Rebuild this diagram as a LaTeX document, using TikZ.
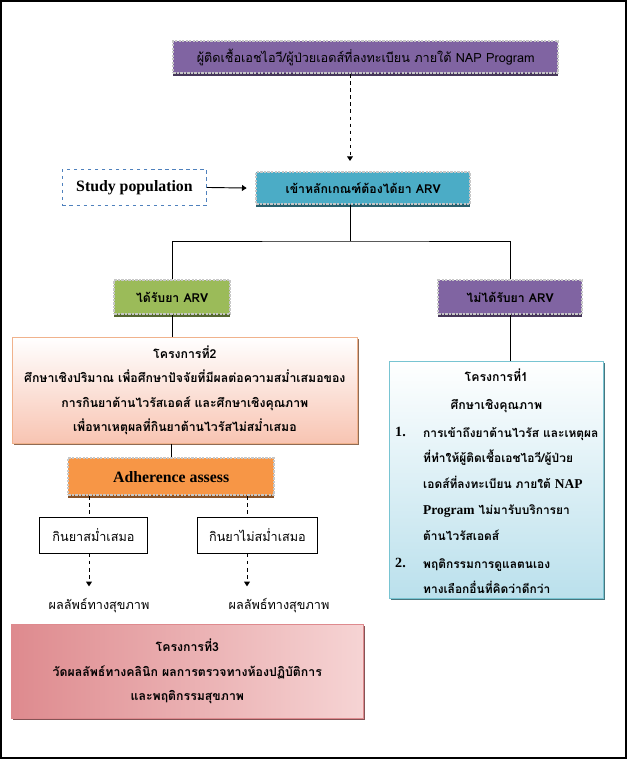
\documentclass[tikz,border=0pt]{standalone}
\usepackage{fontspec}
\setmainfont{Liberation Serif}
\newfontfamily\thai[Script=Thai]{Loma}
\usepackage{tikz}
\usetikzlibrary{arrows.meta,positioning,shadows}
\definecolor{napurple}{RGB}{128,100,162}
\definecolor{arvblue}{RGB}{75,172,198}
\definecolor{arvgreen}{RGB}{155,187,89}
\definecolor{adhorange}{RGB}{247,150,70}
\definecolor{studyblue}{RGB}{79,129,189}
\definecolor{peachlow}{RGB}{248,196,178}
\definecolor{peachmid}{RGB}{252,236,200}
\definecolor{peachline}{RGB}{240,178,140}
\definecolor{rosedark}{RGB}{222,138,142}
\definecolor{roselight}{RGB}{246,212,212}
\definecolor{qualblue}{RGB}{186,224,236}
\definecolor{qualline}{RGB}{120,196,210}

\begin{document}
\begin{tikzpicture}[font=\thai\fontsize{10.8pt}{13pt}\selectfont,
  ribbon/.style={draw=black!22, line width=2pt, densely dotted, fill=#1, drop shadow={shadow xshift=0pt, shadow yshift=-2.5pt, fill=#1!55!black, opacity=1}},
  projbox/.style={draw=#1, line width=0.6pt, drop shadow={shadow xshift=1pt, shadow yshift=-1pt, fill=#1!60!black, opacity=1}},
  bigthai/.style={font=\thai\bfseries\fontsize{10.5pt}{21pt}\selectfont},
  listthai/.style={font=\thai\bfseries\fontsize{10.2pt}{22pt}\selectfont},
  serifbold/.style={font=\rmfamily\bfseries\fontsize{13.5pt}{16pt}\selectfont},
  dashtip/.style={dashed, -{Triangle[length=4pt,width=5pt]}}]
  \useasboundingbox (0,0) rectangle (18.81,22.77);
  \draw[line width=1.2pt] (0.03,0.03) rectangle (18.78,22.74);
  \node[ribbon=napurple, minimum width=11.55cm, minimum height=0.96cm, anchor=north west] (nap) at (5.16,21.57) {ผู้ติดเชื้อเอชไอวี/ผู้ป่วยเอดส์ที่ลงทะเบียน ภายใต้ NAP Program};
  \node[draw=studyblue, dashed, thick, minimum width=4.32cm, minimum height=1.08cm, anchor=north west, serifbold] (study) at (1.86,17.70) {Study population};
  \node[ribbon=arvblue, minimum width=6.42cm, minimum height=0.96cm, anchor=north west, bigthai] (criteria) at (7.65,17.64) {เข้าหลักเกณฑ์ต้องได้ยา ARV};
  \node[ribbon=arvgreen, minimum width=3.48cm, minimum height=1.02cm, anchor=north west, bigthai] (gotarv) at (3.39,14.40) {ได้รับยา ARV};
  \node[ribbon=napurple, minimum width=4.32cm, minimum height=1.02cm, anchor=north west, bigthai] (noarv) at (13.11,14.40) {ไม่ได้รับยา ARV};
  \node[projbox=peachline, top color=white, middle color=peachmid, bottom color=peachlow, minimum width=10.35cm, minimum height=3.18cm, anchor=north west, align=center, bigthai] (proj2) at (0.36,12.66) {โครงการที่2\\ศึกษาเชิงปริมาณ เพื่อศึกษาปัจจัยที่มีผลต่อความสม่ำเสมอของ\\การกินยาต้านไวรัสเอดส์ และศึกษาเชิงคุณภาพ\\เพื่อหาเหตุผลที่กินยาต้านไวรัสไม่สม่ำเสมอ};
  \node[ribbon=adhorange, minimum width=6.18cm, minimum height=1.11cm, anchor=north west, serifbold] (adh) at (2.01,9.06) {Adherence assess};
  \node[draw, thick, minimum width=3.24cm, minimum height=1.08cm, anchor=north west] (regular) at (1.17,7.26) {กินยาสม่ำเสมอ};
  \node[draw, thick, minimum width=3.6cm, minimum height=1.08cm, anchor=north west] (irregular) at (5.91,7.26) {กินยาไม่สม่ำเสมอ};
  \node (outA) at (2.97,4.59) {ผลลัพธ์ทางสุขภาพ};
  \node (outB) at (8.37,4.59) {ผลลัพธ์ทางสุขภาพ};
  \node[projbox=rosedark, left color=rosedark, right color=roselight, minimum width=10.56cm, minimum height=2.82cm, anchor=north west, align=center, bigthai] (proj3) at (0.33,4.05) {โครงการที่3\\วัดผลลัพธ์ทางคลินิก ผลการตรวจทางห้องปฏิบัติการ\\และพฤติกรรมสุขภาพ};
  \node[projbox=qualline, top color=white, bottom color=qualblue, minimum width=6.42cm, minimum height=7.11cm, anchor=north west] (proj1) at (11.67,11.94) {};
  \node[anchor=north, align=center, bigthai] (proj1title) at ([yshift=-0.12cm]proj1.north) {โครงการที่1\\[3pt]ศึกษาเชิงคุณภาพ};
  \node[anchor=north west, inner sep=0pt, font=\rmfamily\bfseries\fontsize{12pt}{22pt}\selectfont] (num1) at (11.85,9.96) {1.};
  \node[anchor=north west, inner sep=0pt, align=left, listthai] (item1) at (12.69,9.96) {การเข้าถึงยาต้านไวรัส และเหตุผล\\ที่ทำให้ผู้ติดเชื้อเอชไอวี/ผู้ป่วย\\เอดส์ที่ลงทะเบียน ภายใต้ {\rmfamily\fontsize{11.5pt}{22pt}\selectfont NAP}\\{\rmfamily\fontsize{11.5pt}{22pt}\selectfont Program} ไม่มารับบริการยา\\ต้านไวรัสเอดส์};
  \node[anchor=north west, inner sep=0pt, font=\rmfamily\bfseries\fontsize{12pt}{22pt}\selectfont] (num2) at (11.85,6.03) {2.};
  \node[anchor=north west, inner sep=0pt, align=left, listthai] (item2) at (12.69,6.03) {พฤติกรรมการดูแลตนเอง\\ทางเลือกอื่นที่คิดว่าดีกว่า};
  \coordinate (split) at (10.5,15.54);
  \coordinate (colA) at (2.67,0);
  \coordinate (colB) at (7.41,0);
  \draw[dashtip, thick, shorten >=0.3cm] (nap.south -| split) -- (criteria.north -| split);
  \draw[-{Triangle[length=4pt,width=5pt]}, thick, shorten >=0.25cm] (study.east) -- (criteria.west);
  \draw[thick] (criteria.south -| split) -- (split);
  \draw[thick] (gotarv.north) |- (split) -| (noarv.north);
  \draw[thick] (gotarv.south) -- (gotarv.south |- proj2.north);
  \draw[thick] (proj2.south -| adh.north) -- (adh.north);
  \draw[dashed, thick] (adh.south -| colA) -- (regular.north -| colA);
  \draw[dashed, thick] (adh.south -| colB) -- (irregular.north -| colB);
  \draw[dashtip, thick, shorten >=0.25cm] (regular.south -| colA) -- (outA.north -| colA);
  \draw[dashtip, thick, shorten >=0.25cm] (irregular.south -| colB) -- (outB.north -| colB);
  \draw[thick] (noarv.south) -- (noarv.south |- proj1.north);
\end{tikzpicture}
\end{document}
